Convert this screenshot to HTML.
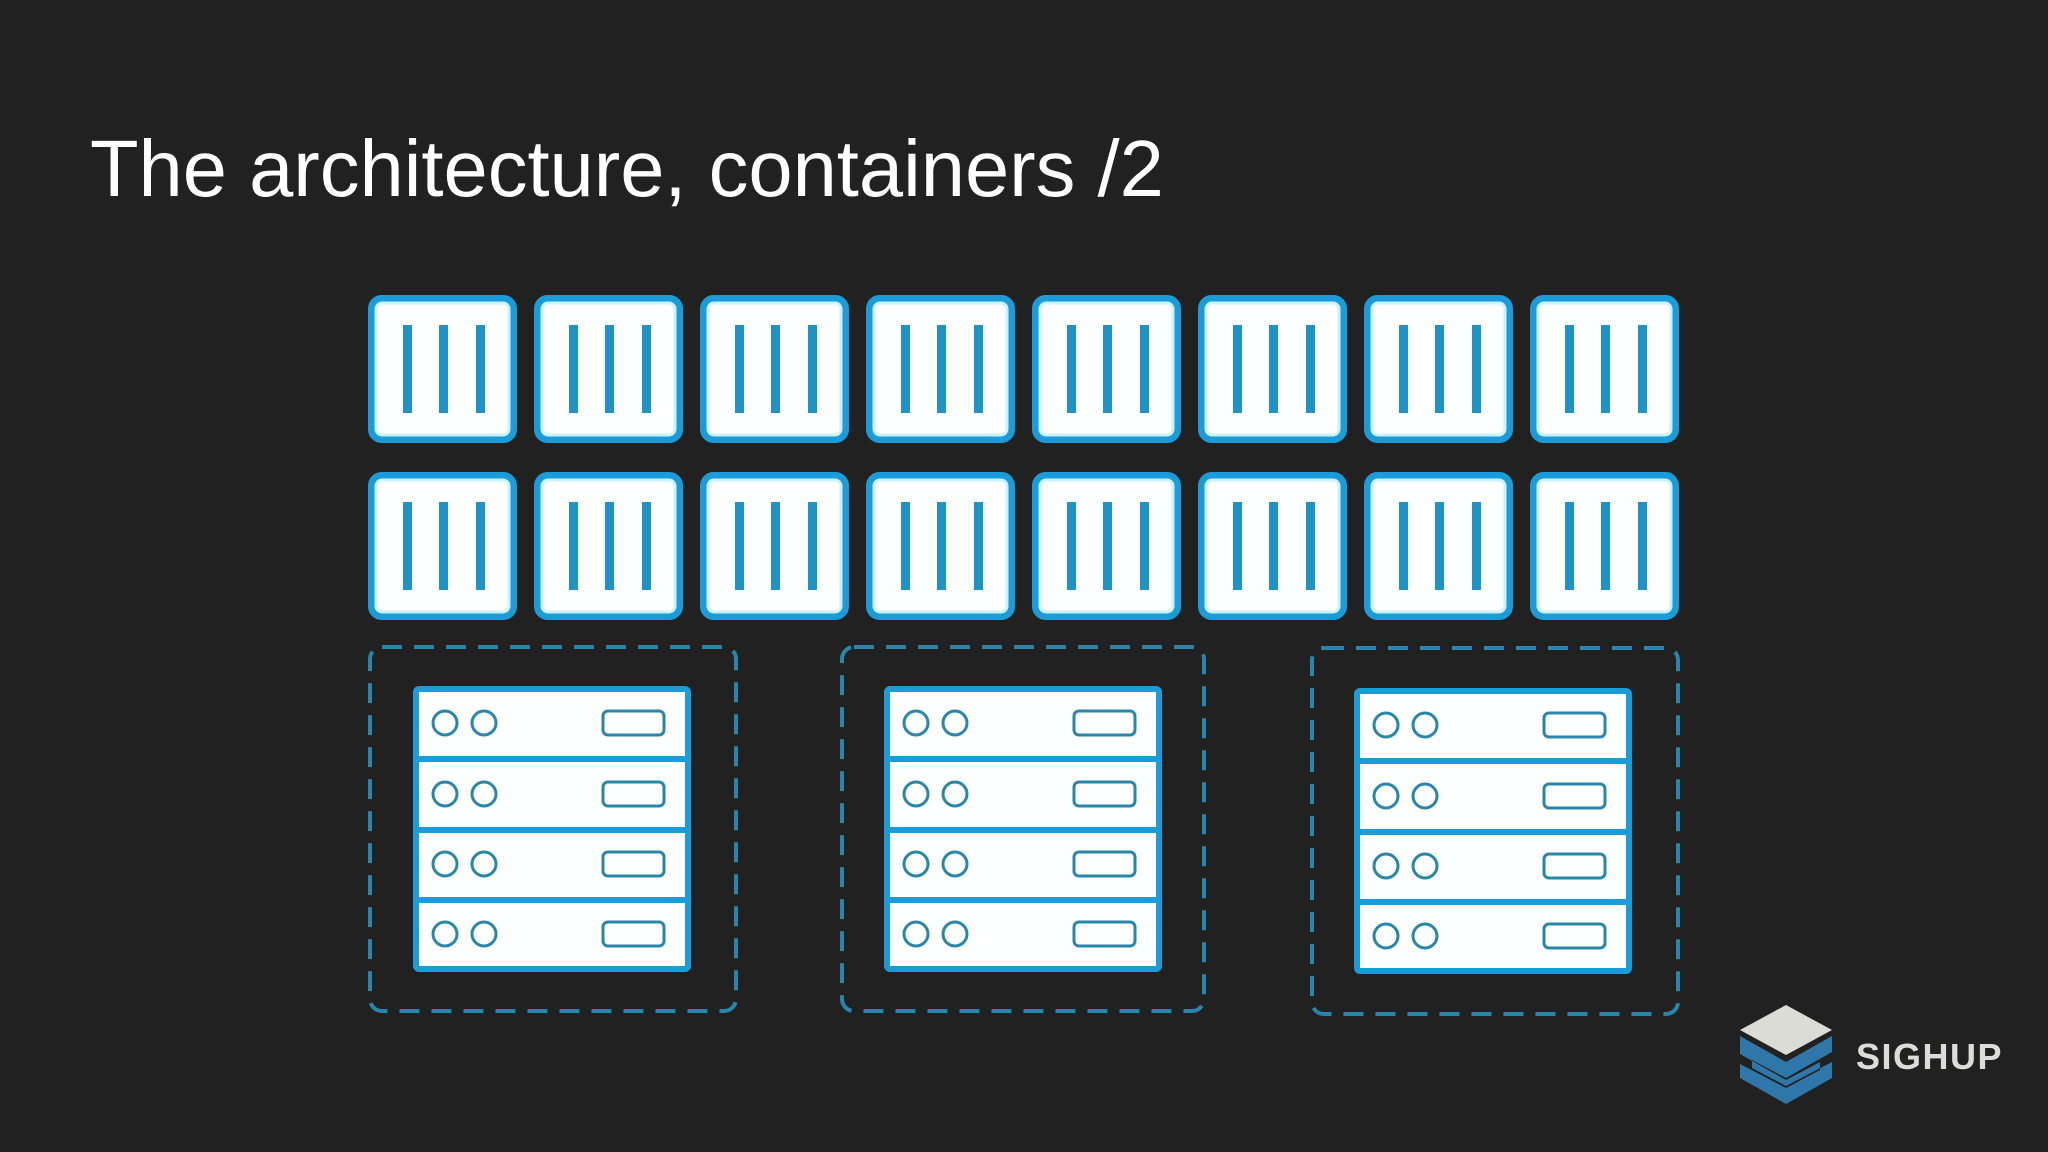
<!DOCTYPE html>
<html><head><meta charset="utf-8"><style>
html,body{margin:0;padding:0;background:#212121;}
body{width:2048px;height:1152px;overflow:hidden;position:relative;}
</style></head><body>
<svg width="2048" height="1152" viewBox="0 0 2048 1152" xmlns="http://www.w3.org/2000/svg" style="position:absolute;left:0;top:0">
<defs>
<g id="cont">
<rect x="3.5" y="3.5" width="142" height="141" rx="10" fill="#fdffff" stroke="#1b9bd8" stroke-width="7"/>
<rect x="8" y="8" width="133" height="132" rx="6" fill="none" stroke="#c8f3ff" stroke-width="3"/>
<rect x="35" y="30" width="9" height="88" fill="#1f93c6"/>
<rect x="71" y="30" width="9" height="88" fill="#1f93c6"/>
<rect x="108" y="30" width="9" height="88" fill="#1f93c6"/>
</g>
<g id="row">
<circle cx="32" cy="37" r="12" fill="none" stroke="#2a86a8" stroke-width="3"/>
<circle cx="71" cy="37" r="12" fill="none" stroke="#2a86a8" stroke-width="3"/>
<rect x="190" y="25" width="61" height="24" rx="5" fill="none" stroke="#2a86a8" stroke-width="3"/>
</g>
<g id="srv">
<rect x="3" y="3" width="272" height="280" rx="3" fill="#fdffff" stroke="#1b9bd8" stroke-width="6"/>
<rect x="3" y="70" width="272" height="6" fill="#1b9bd8"/>
<rect x="3" y="141" width="272" height="6" fill="#1b9bd8"/>
<rect x="3" y="211" width="272" height="6" fill="#1b9bd8"/>
<use href="#row" x="0" y="0"/>
<use href="#row" x="0" y="71"/>
<use href="#row" x="0" y="141"/>
<use href="#row" x="0" y="211"/>
</g>
</defs>
<text x="90" y="196" font-family="Liberation Sans, sans-serif" font-size="79.5" fill="#ffffff">The architecture, containers /2</text>
<g>
<use href="#cont" x="368" y="295"/><use href="#cont" x="534" y="295"/><use href="#cont" x="700" y="295"/><use href="#cont" x="866" y="295"/>
<use href="#cont" x="1032" y="295"/><use href="#cont" x="1198" y="295"/><use href="#cont" x="1364" y="295"/><use href="#cont" x="1530" y="295"/>
<use href="#cont" x="368" y="472"/><use href="#cont" x="534" y="472"/><use href="#cont" x="700" y="472"/><use href="#cont" x="866" y="472"/>
<use href="#cont" x="1032" y="472"/><use href="#cont" x="1198" y="472"/><use href="#cont" x="1364" y="472"/><use href="#cont" x="1530" y="472"/>
</g>
<g fill="none" stroke="#2a85ad" stroke-width="4" stroke-dasharray="20 12">
<rect x="370" y="647" width="366" height="364" rx="12"/>
<rect x="842" y="647" width="362" height="364" rx="12"/>
<rect x="1312" y="648" width="366" height="366" rx="12"/>
</g>
<use href="#srv" x="413" y="686"/>
<use href="#srv" x="884" y="686"/>
<use href="#srv" x="1354" y="688"/>
<g>
<polygon points="1786,1005 1832,1030 1786,1055 1740,1030" fill="#dcdcd6"/>
<polygon points="1740,1036 1786,1062 1832,1036 1832,1052 1786,1078 1752,1060 1752,1068 1786,1086 1832,1062 1832,1078 1786,1104 1740,1078 1740,1064 1786,1088 1820,1070 1820,1062 1786,1080 1740,1054" fill="#2f77a8"/>
</g>
<text x="1856" y="1069" font-family="Liberation Sans, sans-serif" font-weight="bold" font-size="36" letter-spacing="1.5" fill="#dcdcd8">SIGHUP</text>
</svg>
</body></html>
